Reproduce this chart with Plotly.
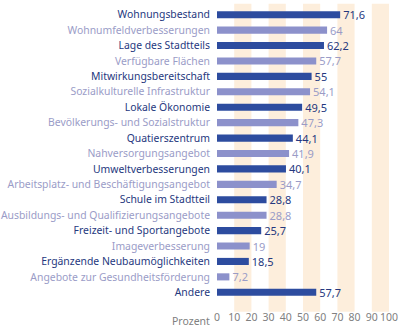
import plotly.graph_objects as go

categories = [
    "Wohnungsbestand", "Wohnumfeldverbesserungen", "Lage des Stadtteils",
    "Verfügbare Flächen", "Mitwirkungsbereitschaft", "Sozialkulturelle Infrastruktur",
    "Lokale Ökonomie", "Bevölkerungs- und Sozialstruktur", "Quatierszentrum",
    "Nahversorgungsangebot", "Umweltverbesserungen",
    "Arbeitsplatz- und Beschäftigungsangebot", "Schule im Stadtteil",
    "Ausbildungs- und Qualifizierungsangebote", "Freizeit- und Sportangebote",
    "Imageverbesserung", "Ergänzende Neubaumöglichkeiten",
    "Angebote zur Gesundheitsförderung", "Andere",
]
values = [71.6, 64, 62.2, 57.7, 55, 54.1, 49.5, 47.3, 44.1, 41.9, 40.1, 34.7,
          28.8, 28.8, 25.7, 19, 18.5, 7.2, 57.7]
tick_vals = [0, 10, 20, 30, 40, 50, 60, 70, 80, 90, 100]
band_ranges = [(10, 20), (30, 40), (50, 60), (70, 80), (90, 100)]

DARK_BAR = "#2d4c9f"
LIGHT_BAR = "#8c91cb"
DARK_TXT = "#25387e"
LIGHT_TXT = "#9a9cc7"
BAND = "#fdeedc"

bar_colors = [DARK_BAR if i % 2 == 0 else LIGHT_BAR for i in range(len(values))]
txt_colors = [DARK_TXT if i % 2 == 0 else LIGHT_TXT for i in range(len(values))]
bar_colors[-1] = DARK_BAR
txt_colors[-1] = DARK_TXT

labels = [f"{v:g}".replace(".", ",") for v in values]
ticktext = [f"<span style='color:{c}'>{t}</span>" for t, c in zip(categories, txt_colors)]

fig = go.Figure(go.Bar(
    x=values, y=categories, orientation="h",
    marker=dict(color=bar_colors, line=dict(width=0)),
    width=0.46,
    text=labels, textposition="outside", cliponaxis=False, constraintext="none",
    textfont=dict(color=txt_colors, size=11, family="Noto Sans"),
))

shapes = [dict(type="rect", xref="x", yref="paper", x0=a, x1=b, y0=-0.04, y1=1.011,
               fillcolor=BAND, line=dict(width=0), layer="below")
          for a, b in band_ranges]

fig.update_layout(
    width=402, height=328,
    margin=dict(l=217, r=13, t=7, b=28, autoexpand=False),
    paper_bgcolor="white", plot_bgcolor="white",
    font=dict(family="Noto Sans", size=10.4, color="#808080"),
    showlegend=False,
    shapes=shapes,
    xaxis=dict(range=[0, 100], tickvals=tick_vals, showgrid=False, zeroline=False,
               showline=False, ticks="", tickangle=0, automargin=False,
               tickfont=dict(size=10.5, color="#808080"), ticklabelstandoff=9),
    yaxis=dict(categoryorder="array", categoryarray=categories, autorange="reversed",
               tickvals=categories, ticktext=ticktext, showgrid=False, zeroline=False,
               showline=False, ticks="", ticklabelstandoff=6, automargin=False,
               tickfont=dict(size=10.4)),
    annotations=[dict(text="Prozent", x=0, y=0, xref="x", yref="paper",
                      xanchor="right", yanchor="top", xshift=-5, yshift=-12,
                      showarrow=False, font=dict(size=10.5, color="#808080"))],
)

fig.write_html("out.html")
